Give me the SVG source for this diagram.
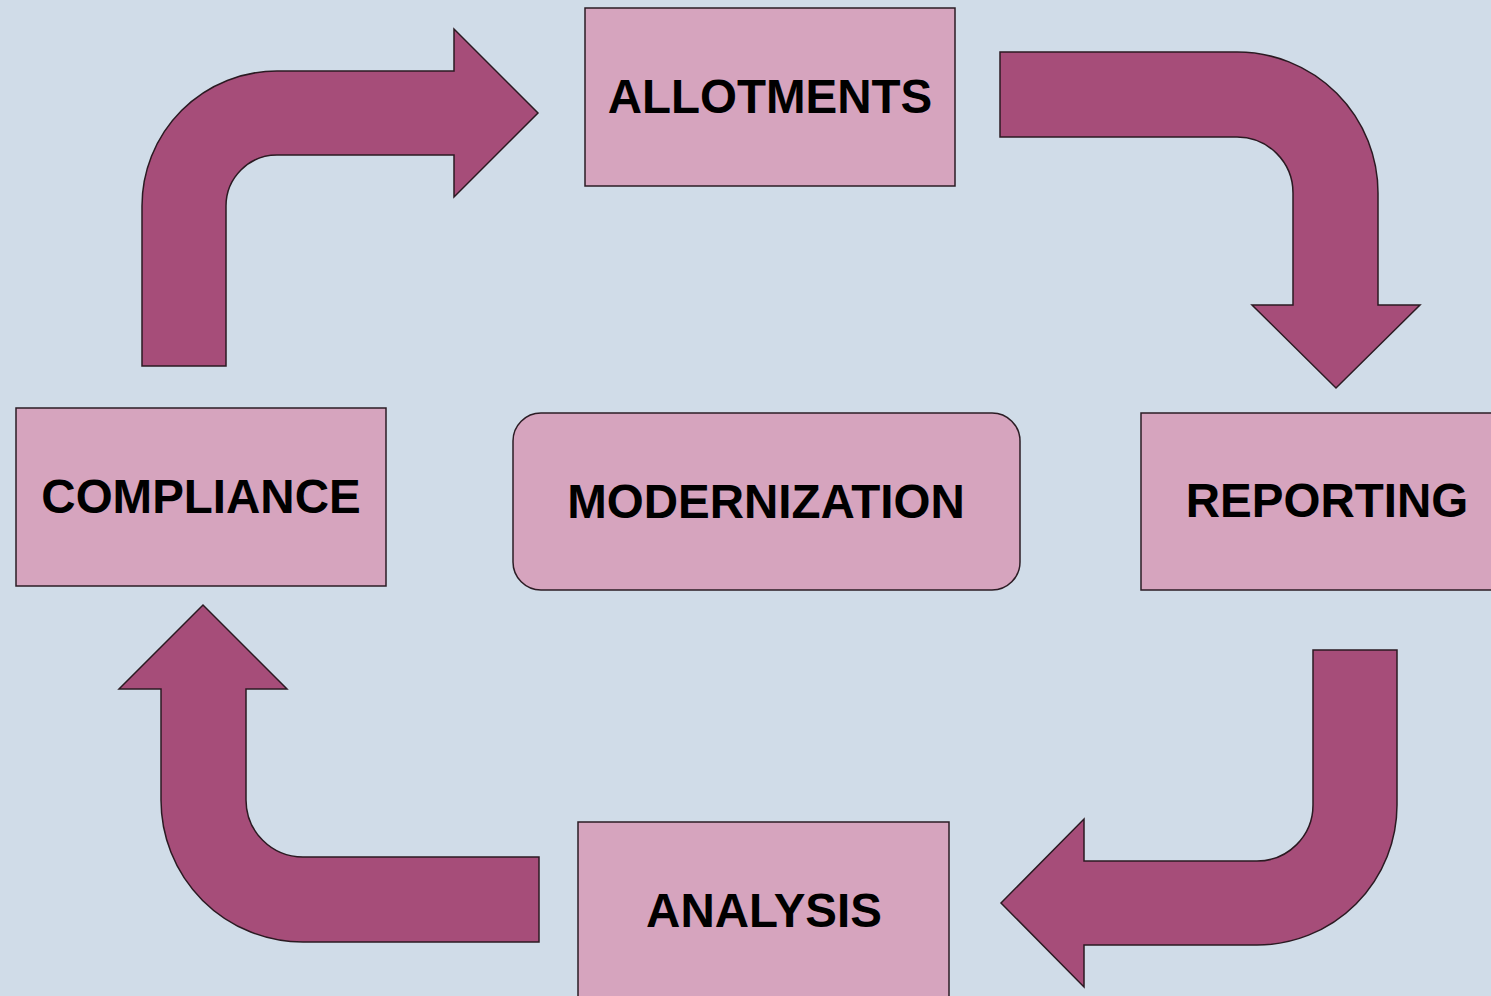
<svg xmlns="http://www.w3.org/2000/svg" width="1491" height="996" viewBox="0 0 1491 996">
<style>
.box{fill:#d6a4be;stroke:#2b1c24;stroke-width:1.5}
.arr{fill:#a64d79;stroke:#2b1a22;stroke-width:1.5;stroke-linejoin:miter}
.lbl{font-family:"Liberation Sans",Arial,sans-serif;font-weight:bold;font-size:47.5px;fill:#000;text-anchor:middle}
</style>
<rect x="0" y="0" width="1491" height="996" fill="#d0dce8"/>
<g id="connectors">
<path class="arr" d="M142,366 L142,206 A135,135 0 0 1 277,71 L454,71 L454,29 L538,113 L454,197 L454,155 L277,155 A51,51 0 0 0 226,206 L226,366 Z"/>
<path class="arr" d="M1000,52 L1237,52 A141,141 0 0 1 1378,193 L1378,305 L1420,305 L1336,388 L1252,305 L1293,305 L1293,193 A56,56 0 0 0 1237,137 L1000,137 Z"/>
<path class="arr" d="M1313,650 L1397,650 L1397,805 A140,140 0 0 1 1257,945 L1084,945 L1084,987 L1001,903 L1084,819 L1084,861 L1257,861 A56,56 0 0 0 1313,805 Z"/>
<path class="arr" d="M539,857 L539,942 L303,942 A142,142 0 0 1 161,800 L161,689 L119,689 L203,605 L287,689 L246,689 L246,800 A57,57 0 0 0 303,857 Z"/>
</g>
<g id="allotments">
<rect class="box" x="585" y="8" width="370" height="178"/>
<text class="lbl" x="770" y="113">ALLOTMENTS</text>
</g>
<g id="compliance">
<rect class="box" x="16" y="408" width="370" height="178"/>
<text class="lbl" x="201" y="513">COMPLIANCE</text>
</g>
<g id="modernization">
<rect class="box" x="513" y="413" width="507" height="177" rx="28" ry="28"/>
<text class="lbl" x="766" y="518">MODERNIZATION</text>
</g>
<g id="reporting">
<rect class="box" x="1141" y="413" width="370" height="177"/>
<text class="lbl" x="1327" y="517">REPORTING</text>
</g>
<g id="analysis">
<rect class="box" x="578" y="822" width="371" height="180"/>
<text class="lbl" x="764" y="927">ANALYSIS</text>
</g>
</svg>
